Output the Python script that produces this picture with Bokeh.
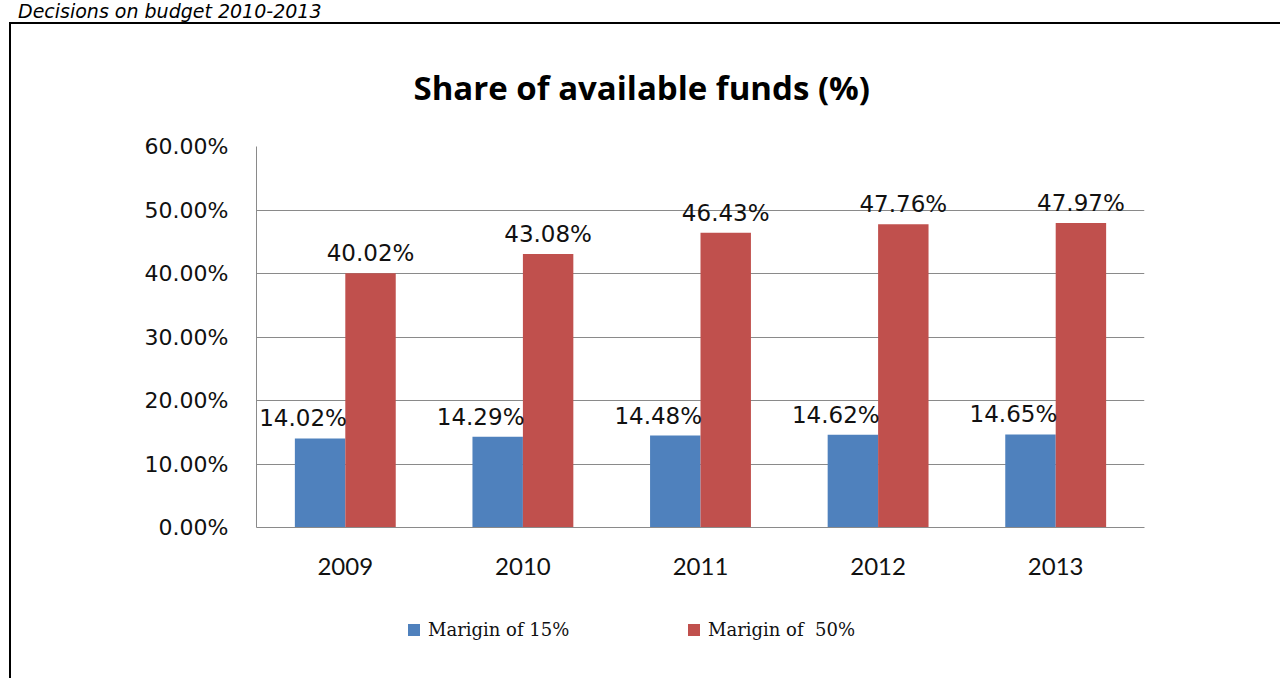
from bokeh.plotting import figure
from bokeh.models import (ColumnDataSource, FactorRange, Range1d, FixedTicker,
                          PrintfTickFormatter, Title, Legend, LegendItem, Div)
from bokeh.layouts import column
from bokeh.transform import dodge
from bokeh.core.properties import value
from bokeh.embed import file_html
from bokeh.resources import INLINE

# ---- data ----
years = ["2009", "2010", "2011", "2012", "2013"]
margin15 = [14.02, 14.29, 14.48, 14.62, 14.65]
margin50 = [40.02, 43.08, 46.43, 47.76, 47.97]
series_names = ["Marigin of 15%", "Marigin of  50%"]
y_ticks = [0, 10, 20, 30, 40, 50, 60]
title_text = "Share of available funds (%)"
header_text = "Decisions on budget  2010-2013"

BLUE = "#4F81BD"
RED = "#C0504D"
GRID = "#8a8a8a"

src = ColumnDataSource(dict(
    year=years, v15=margin15, v50=margin50,
    l15=["%.2f%%" % v for v in margin15],
    l50=["%.2f%%" % v for v in margin50],
))

FIG_W = 1271
P_H = 563
LEG_H = 680 - 22 - 2 - P_H

p = figure(x_range=FactorRange(*years), y_range=Range1d(0, 60),
           width=FIG_W, height=P_H, output_backend="svg", toolbar_location=None,
           min_border_left=245, min_border_right=138,
           min_border_top=122, min_border_bottom=P_H - 503,
           styles={"border-left": "2px solid black", "border-top": "2px solid black",
                   "margin-left": "9px"})
p.outline_line_color = None
p.background_fill_color = "white"
p.border_fill_color = "white"

bw = 0.284
p.vbar(x=dodge("year", -bw / 2, range=p.x_range), top="v15", width=bw,
       source=src, fill_color=BLUE, line_color=None)
p.vbar(x=dodge("year", bw / 2, range=p.x_range), top="v50", width=bw,
       source=src, fill_color=RED, line_color=None)

p.text(x=dodge("year", -0.238, range=p.x_range), y="v15", text="l15", source=src,
       text_align="center", text_baseline="alphabetic", y_offset=-20,
       text_font=value("DejaVu Sans"), text_font_size="23px", text_color="#111111")
p.text(x=dodge("year", bw / 2, range=p.x_range), y="v50", text="l50", source=src,
       text_align="center", text_baseline="alphabetic", y_offset=-20,
       text_font=value("DejaVu Sans"), text_font_size="23px", text_color="#111111")

# axes
p.xgrid.grid_line_color = None
p.ygrid.grid_line_color = GRID
p.ygrid.grid_line_width = 1
p.yaxis.ticker = FixedTicker(ticks=y_ticks)
p.ygrid.ticker = FixedTicker(ticks=y_ticks)
p.yaxis.formatter = PrintfTickFormatter(format="%.2f%%")
p.yaxis.major_tick_line_color = None
p.yaxis.minor_tick_line_color = None
p.yaxis.major_tick_out = 0
p.yaxis.major_tick_in = 0
p.yaxis.axis_line_color = GRID
p.yaxis.major_label_standoff = 28
p.yaxis.major_label_text_font = "DejaVu Sans"
p.yaxis.major_label_text_font_size = "22px"
p.yaxis.major_label_text_color = "#111111"

p.xaxis.axis_line_color = GRID
p.xaxis.major_tick_line_color = None
p.xaxis.minor_tick_line_color = None
p.xaxis.major_tick_out = 0
p.xaxis.major_tick_in = 0
p.xaxis.major_label_standoff = 30
p.xaxis.major_label_text_font = "Lato"
p.xaxis.major_label_text_font_size = "24px"
p.xaxis.major_label_text_color = "#111111"

# chart title
p.add_layout(Title(text=title_text, align="left", offset=157, standoff=74,
                   text_font="Open Sans", text_font_style="bold", text_font_size="33px",
                   text_color="black"), "above")

# legend strip (separate small figure below the chart; its bars lie out of view)
lf = figure(width=FIG_W, height=LEG_H, x_range=FactorRange(*years),
            y_range=Range1d(100, 101),
            output_backend="svg", toolbar_location=None, min_border=0,
            styles={"border-left": "2px solid black", "margin-left": "9px"})
lf.axis.visible = False
lf.grid.grid_line_color = None
lf.outline_line_color = None
g1 = lf.vbar(x=dodge("year", -bw / 2, range=lf.x_range), top="v15", width=bw,
             source=src, fill_color=BLUE, line_color=None)
g2 = lf.vbar(x=dodge("year", bw / 2, range=lf.x_range), top="v50", width=bw,
             source=src, fill_color=RED, line_color=None)
legend = Legend(items=[LegendItem(label=series_names[0], renderers=[g1]),
                       LegendItem(label=series_names[1], renderers=[g2])],
                location=(150, LEG_H - 55), orientation="horizontal",
                glyph_width=15, glyph_height=15, label_standoff=7, spacing=113,
                label_width=145,
                padding=0, margin=0, border_line_color=None, background_fill_alpha=0,
                label_text_font="DejaVu Serif", label_text_font_size="18px",
                label_text_color="#111111", label_height=20)
lf.add_layout(legend, "center")

header = Div(text=header_text, width=1282 - 18, height=22, margin=(0, 0, 0, 18),
             styles={"font-family": "DejaVu Sans", "font-style": "italic",
                     "font-size": "19px", "line-height": "22px", "color": "black"})

layout = column(header, p, lf, spacing=0)
open("out.html", "w").write(file_html(layout, INLINE))
